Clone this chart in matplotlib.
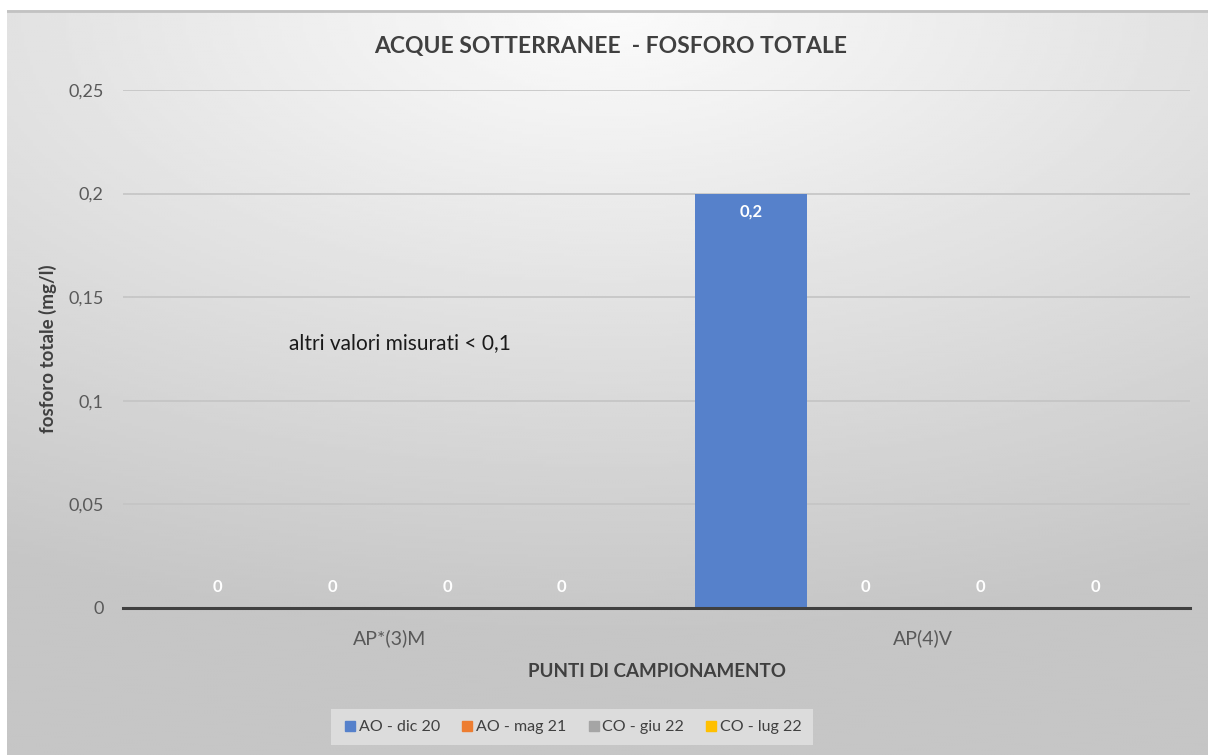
import matplotlib.pyplot as plt
import numpy as np
from matplotlib.lines import Line2D
from matplotlib.ticker import FuncFormatter

# data
categories = ["AP*(3)M", "AP(4)V"]
series_names = ["AO - dic 20", "AO - mag 21", "CO - giu 22", "CO - lug 22"]
ao_dic20 = [0, 0.2]
ao_mag21 = [0, 0]
co_giu22 = [0, 0]
co_lug22 = [0, 0]
series_values = [ao_dic20, ao_mag21, co_giu22, co_lug22]
colors = ["#5681CB", "#ED7D31", "#A5A5A5", "#FFC000"]
y_ticks = [0, 0.05, 0.1, 0.15, 0.2, 0.25]

plt.rcParams["font.family"] = ["Lato", "DejaVu Sans"]

W, H = 1208, 755
fig = plt.figure(figsize=(W / 100, H / 100), dpi=100)
fig.patch.set_facecolor("white")

# radial gray gradient background (chart area)
bg = fig.add_axes([7 / W, 0, 1 - 7 / W, 1 - 10 / H], zorder=-10)
gx, gy = np.meshgrid(np.linspace(0, 1, 400), np.linspace(0, 1, 250))
d = np.sqrt(((gx - 0.5) * 1.0) ** 2 + ((gy - 0.0) * 1.25) ** 2)
d = np.clip(d / 1.05, 0, 1)
shade = 0.985 - 0.21 * d
bg.imshow(shade, cmap="gray", vmin=0, vmax=1, aspect="auto",
          extent=[0, 1, 1, 0], interpolation="bilinear")
bg.set_xlim(0, 1)
bg.set_ylim(1, 0)
bg.axhline(0.0015, color="#c2c2c2", lw=2)
bg.axis("off")

ax = fig.add_axes([123 / W, 1 - 608 / H, (1190 - 123) / W, (608 - 90) / H])
ax.patch.set_alpha(0)

x = np.arange(len(categories))
step = 0.215
for i, (name, vals, col) in enumerate(zip(series_names, series_values, colors)):
    pos = x + (i - 1.5) * step
    ax.bar(pos, vals, width=0.211, color=col, label=name, zorder=3)
    for px, v in zip(pos, vals):
        label = f"{v:g}".replace(".", ",")
        offset = -13 if v > 0 else 15
        ax.annotate(label, (px, v), xytext=(0, offset), textcoords="offset points",
                    ha="center", va="center", color="white",
                    fontsize=12, fontweight="bold", zorder=4)

ax.set_xlim(-0.5, 1.5)
ax.set_ylim(0, 0.25)
ax.set_yticks(y_ticks)
ax.yaxis.set_major_formatter(FuncFormatter(lambda v, p: f"{v:g}".replace(".", ",")))
ax.set_xticks(x)
ax.set_xticklabels(categories)
ax.tick_params(axis="both", length=0, labelsize=13, colors="#595959")
ax.tick_params(axis="x", pad=15, labelsize=14)
ax.tick_params(axis="y", pad=14)
ax.grid(axis="y", color="#c4c4c4", lw=1.2, zorder=0)
for s in ["top", "right", "left"]:
    ax.spines[s].set_visible(False)
ax.spines["bottom"].set_color("#404040")
ax.spines["bottom"].set_linewidth(2.2)
ax.spines["bottom"].set_zorder(5)

ax.set_ylabel("fosforo totale (mg/l)", fontsize=13.5, fontweight="bold",
              color="#404040", labelpad=8)
ax.set_xlabel("PUNTI DI CAMPIONAMENTO", fontsize=13.5, fontweight="bold",
              color="#404040", labelpad=12)

ax.text(0.156, 0.128 / 0.25, "altri valori misurati < 0,1", transform=ax.transAxes,
        fontsize=15, color="#1a1a1a", va="center", ha="left")

fig.text(611 / W, 1 - 47 / H, "ACQUE SOTTERRANEE  - FOSFORO TOTALE", ha="center", va="center",
         fontsize=16.5, fontweight="bold", color="#404040")

handles = [Line2D([], [], marker="s", ls="none", markersize=7, color=c) for c in colors]
leg = fig.legend(handles, series_names, loc="center", bbox_to_anchor=(572 / W, 1 - 727 / H),
                 ncol=4, fontsize=11.5, frameon=True, fancybox=False, handletextpad=0.05,
                 handlelength=1.0, columnspacing=1.2, borderpad=0.7)
leg.get_frame().set_facecolor("#e6e6e6")
leg.get_frame().set_edgecolor("none")
leg.get_frame().set_alpha(0.7)
for t in leg.get_texts():
    t.set_color("#404040")

fig.savefig("out.png", dpi=100)
